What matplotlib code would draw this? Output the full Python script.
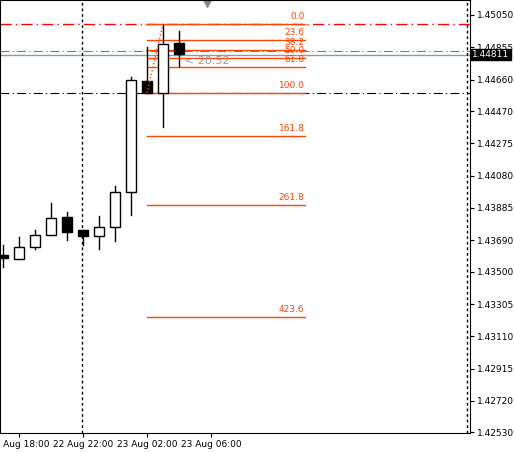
import matplotlib.pyplot as plt
from matplotlib.patches import Rectangle

# hourly candles, EURUSD-like
opens  = [1.43600, 1.43576, 1.43649, 1.43721, 1.43830, 1.43751, 1.43715, 1.43770, 1.43981, 1.44651, 1.44579, 1.44881]
highs  = [1.43661, 1.43709, 1.43751, 1.43915, 1.43860, 1.43751, 1.43836, 1.44017, 1.44676, 1.44857, 1.44990, 1.44953]
lows   = [1.43528, 1.43576, 1.43637, 1.43721, 1.43691, 1.43661, 1.43637, 1.43685, 1.43842, 1.44579, 1.44374, 1.44742]
closes = [1.43582, 1.43649, 1.43721, 1.43824, 1.43739, 1.43715, 1.43770, 1.43981, 1.44657, 1.44579, 1.44875, 1.44814]

fib_high = 1.44996
fib_low = 1.44579
fib_levels = [0.0, 23.6, 38.2, 50.0, 61.8, 100.0, 161.8, 261.8, 423.6]
green_level = 1.44830
bid = 1.44811

yticks = [1.45050, 1.44855, 1.44660, 1.44470, 1.44275, 1.44080, 1.43885, 1.43690,
          1.43500, 1.43305, 1.43110, 1.42915, 1.42720, 1.42530]
xtick_pos = [1, 5, 9, 13]
xtick_labels = ['22 Aug 18:00', '22 Aug 22:00', '23 Aug 02:00', '23 Aug 06:00']

k = 0.00195 / 32.3
fig = plt.figure(figsize=(5.14, 4.53), dpi=100)
ax = fig.add_axes([0, 20 / 453, 470 / 514, 433 / 453])
ax.set_xlim(-0.19, 29.19)
ax.set_ylim(1.45050 - 418 * k, 1.45050 + 15 * k)

for i, (o, h, l, c) in enumerate(zip(opens, highs, lows, closes)):
    ax.plot([i, i], [l, h], color='black', lw=1, zorder=3)
    col = 'white' if c >= o else 'black'
    ax.add_patch(Rectangle((i - 0.33, min(o, c)), 0.66, abs(c - o), facecolor=col,
                           edgecolor='black', lw=1, zorder=4))

# horizontal lines
ax.axhline(fib_high, color='red', ls=(0, (8, 3, 1, 3)), lw=1)
ax.axhline(fib_low, color='black', ls=(0, (8, 3, 1, 3)), lw=0.8)
ax.axhline(green_level, color='#33aa33', ls=(0, (8, 3, 1, 3)), lw=0.8)
ax.axhline(bid, color='#8899aa', lw=1)
ax.axvline(4.94, color='black', ls=(0, (2, 2)), lw=1)
ax.axvline(29.0, color='black', ls=(0, (2, 2)), lw=1)

# fibonacci
for lev in fib_levels:
    p = fib_high - (fib_high - fib_low) * lev / 100
    ax.plot([9, 18.9], [p, p], color='#ff4500', lw=1, zorder=2)
    ax.text(18.85, p + 3 * k, f'{lev:.1f}', color='#ff4500', fontsize=6.5,
            ha='right', va='bottom')
ax.plot([9, 10], [fib_low, fib_high], color='#ff4500', ls=':', lw=1, zorder=5)
ax.text(11.4, 1.44770, '< 20:52', color='#999999', fontsize=8, va='center')
ax.plot([12.75], [1.45050 + 12 * k], marker='v', color='#888888', ms=6, clip_on=False)

ax.yaxis.tick_right()
ax.set_yticks(yticks)
ax.set_yticklabels([f'{t:.5f}' for t in yticks], fontsize=6.5)
ax.set_xticks(xtick_pos)
ax.set_xticklabels(xtick_labels, fontsize=6.5)
ax.tick_params(length=3, width=0.8, pad=2)
ax.text(1.005, (bid - ax.get_ylim()[0]) / (ax.get_ylim()[1] - ax.get_ylim()[0]), f'{bid:.5f}',
        transform=ax.transAxes, fontsize=6.5, color='white', va='center', ha='left',
        bbox=dict(boxstyle='square,pad=0.15', fc='black', ec='black'))
for s in ax.spines.values():
    s.set_linewidth(0.8)

fig.savefig('out.png', dpi=100)
